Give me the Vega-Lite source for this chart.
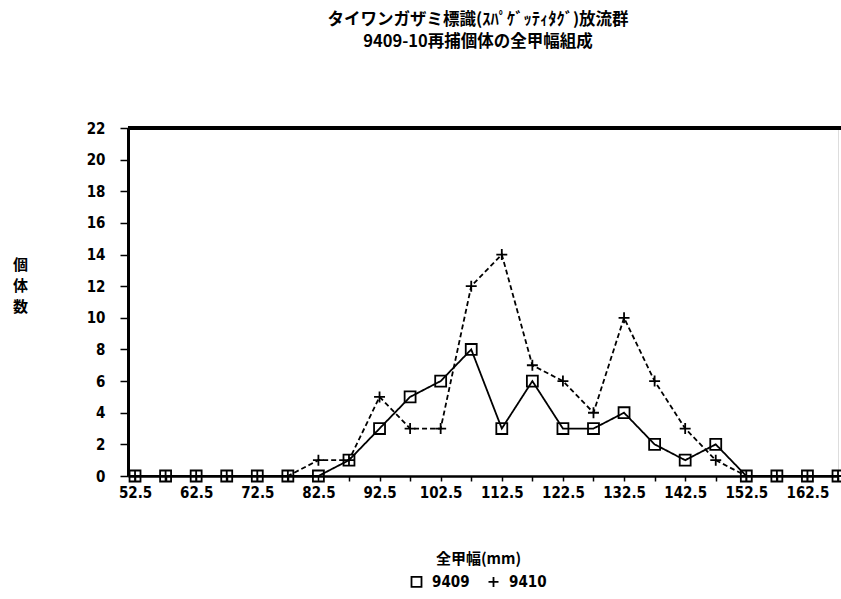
{
  "$schema": "https://vega.github.io/schema/vega-lite/v6.json",
  "autosize": {"type": "none"},
  "width": 710,
  "height": 348,
  "padding": {"left": 128, "top": 128, "right": 3, "bottom": 123},
  "background": "white",
  "title": {
    "text": ["タイワンガザミ標識(ｽﾊﾟｹﾞｯﾃｨﾀｸﾞ)放流群", "9409-10再捕個体の全甲幅組成"],
    "font": "Noto Sans CJK JP",
    "fontSize": 16.5,
    "fontWeight": "bold",
    "color": "black",
    "anchor": "middle",
    "frame": "group",
    "dx": -5,
    "lineHeight": 22,
    "offset": 71
  },
  "data": {
    "values": [
      {"x": 52.5, "n": 0, "s": "9409"}, {"x": 57.5, "n": 0, "s": "9409"}, {"x": 62.5, "n": 0, "s": "9409"},
      {"x": 67.5, "n": 0, "s": "9409"}, {"x": 72.5, "n": 0, "s": "9409"}, {"x": 77.5, "n": 0, "s": "9409"},
      {"x": 82.5, "n": 0, "s": "9409"}, {"x": 87.5, "n": 1, "s": "9409"}, {"x": 92.5, "n": 3, "s": "9409"},
      {"x": 97.5, "n": 5, "s": "9409"}, {"x": 102.5, "n": 6, "s": "9409"}, {"x": 107.5, "n": 8, "s": "9409"},
      {"x": 112.5, "n": 3, "s": "9409"}, {"x": 117.5, "n": 6, "s": "9409"}, {"x": 122.5, "n": 3, "s": "9409"},
      {"x": 127.5, "n": 3, "s": "9409"}, {"x": 132.5, "n": 4, "s": "9409"}, {"x": 137.5, "n": 2, "s": "9409"},
      {"x": 142.5, "n": 1, "s": "9409"}, {"x": 147.5, "n": 2, "s": "9409"}, {"x": 152.5, "n": 0, "s": "9409"},
      {"x": 157.5, "n": 0, "s": "9409"}, {"x": 162.5, "n": 0, "s": "9409"}, {"x": 167.5, "n": 0, "s": "9409"},
      {"x": 52.5, "n": 0, "s": "9410"}, {"x": 57.5, "n": 0, "s": "9410"}, {"x": 62.5, "n": 0, "s": "9410"},
      {"x": 67.5, "n": 0, "s": "9410"}, {"x": 72.5, "n": 0, "s": "9410"}, {"x": 77.5, "n": 0, "s": "9410"},
      {"x": 82.5, "n": 1, "s": "9410"}, {"x": 87.5, "n": 1, "s": "9410"}, {"x": 92.5, "n": 5, "s": "9410"},
      {"x": 97.5, "n": 3, "s": "9410"}, {"x": 102.5, "n": 3, "s": "9410"}, {"x": 107.5, "n": 12, "s": "9410"},
      {"x": 112.5, "n": 14, "s": "9410"}, {"x": 117.5, "n": 7, "s": "9410"}, {"x": 122.5, "n": 6, "s": "9410"},
      {"x": 127.5, "n": 4, "s": "9410"}, {"x": 132.5, "n": 10, "s": "9410"}, {"x": 137.5, "n": 6, "s": "9410"},
      {"x": 142.5, "n": 3, "s": "9410"}, {"x": 147.5, "n": 1, "s": "9410"}, {"x": 152.5, "n": 0, "s": "9410"},
      {"x": 157.5, "n": 0, "s": "9410"}, {"x": 162.5, "n": 0, "s": "9410"}, {"x": 167.5, "n": 0, "s": "9410"}
    ]
  },
  "encoding": {
    "x": {
      "field": "x", "type": "quantitative",
      "scale": {"domain": [51.35, 167.5], "nice": false, "zero": false},
      "axis": {
        "values": [52.5, 57.5, 62.5, 67.5, 72.5, 77.5, 82.5, 87.5, 92.5, 97.5, 102.5, 107.5, 112.5, 117.5, 122.5, 127.5, 132.5, 137.5, 142.5, 147.5, 152.5, 157.5, 162.5, 167.5],
        "labelExpr": "(datum.value - 52.5) % 10 == 0 && datum.value < 165 ? format(datum.value, '.1f') : ''",
        "title": "全甲幅(mm)",
        "titleFont": "Noto Sans CJK JP",
        "titleFontSize": 15,
        "titleFontWeight": "bold",
        "titleColor": "black",
        "titleX": 350,
        "titleY": 82,
        "titleBaseline": "middle",
        "titleAlign": "center",
        "grid": false,
        "domainColor": "black",
        "domainWidth": 2.5,
        "tickColor": "black",
        "tickWidth": 1.5,
        "tickSize": 5,
        "labelFont": "DejaVu Sans Condensed",
        "labelFontSize": 15,
        "labelFontWeight": "bold",
        "labelColor": "black",
        "labelPadding": 4,
        "labelFlush": false,
        "labelOverlap": false
      }
    },
    "y": {
      "field": "n", "type": "quantitative",
      "scale": {"domain": [0, 22], "nice": false},
      "axis": {
        "values": [0, 2, 4, 6, 8, 10, 12, 14, 16, 18, 20, 22],
        "title": ["個", "体", "数"],
        "titleAngle": 0,
        "titleFont": "Noto Sans CJK JP",
        "titleFontSize": 15,
        "titleFontWeight": "bold",
        "titleColor": "black",
        "titleLineHeight": 21,
        "titleX": -108,
        "titleY": 129,
        "titleAlign": "center",
        "titleBaseline": "top",
        "grid": false,
        "domainColor": "black",
        "domainWidth": 3,
        "tickColor": "black",
        "tickWidth": 1.5,
        "tickSize": 8,
        "labelFont": "DejaVu Sans Condensed",
        "labelFontSize": 15,
        "labelFontWeight": "bold",
        "labelColor": "black",
        "labelPadding": 15,
        "labelFlush": false
      }
    }
  },
  "layer": [
    {
      "mark": {"type": "rule", "color": "black", "strokeWidth": 2.5},
      "encoding": {"y": {"datum": 22}, "x": {"value": 0}, "x2": {"value": 713}}
    },
    {
      "mark": {"type": "line", "color": "black", "strokeWidth": 1.8},
      "encoding": {
        "detail": {"field": "s"},
        "strokeDash": {
          "field": "s", "type": "nominal",
          "scale": {"domain": ["9409", "9410"], "range": [[1, 0], [5, 3]]},
          "legend": null
        }
      }
    },
    {
      "mark": {"type": "point", "color": "black", "filled": false, "strokeWidth": 1.8, "opacity": 1, "size": 120},
      "encoding": {
        "shape": {
          "field": "s", "type": "nominal",
          "scale": {"domain": ["9409", "9410"], "range": ["square", "M-1,0L1,0M0,-1L0,1"]},
          "legend": {
            "title": null,
            "orient": "none",
            "direction": "horizontal",
            "legendX": 281,
            "legendY": 446,
            "symbolSize": 100,
            "symbolStrokeColor": "black",
            "symbolStrokeWidth": 1.8,
            "symbolFillColor": "transparent",
            "labelFont": "DejaVu Sans Condensed",
            "labelFontSize": 15,
            "labelFontWeight": "bold",
            "labelColor": "black",
            "columnPadding": 14,
            "labelOffset": 8
          }
        }
      }
    }
  ],
  "resolve": {"legend": {"shape": "independent", "strokeDash": "independent"}}
}
